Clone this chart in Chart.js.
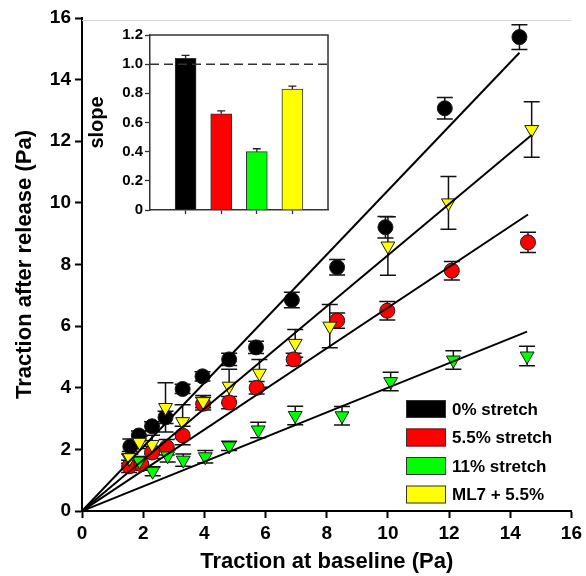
<!DOCTYPE html>
<html><head><meta charset="utf-8">
<script src="https://cdn.jsdelivr.net/npm/chart.js@4/dist/chart.umd.min.js"></script>
<style>
html,body{margin:0;padding:0;background:#fff;}
#wrap{position:relative;width:586px;height:576px;overflow:hidden;}
#main{position:absolute;left:0;top:0;}
#inset{position:absolute;left:84px;top:21px;background:#fff;}
</style></head><body>
<div id="wrap"><canvas id="main" width="586" height="576"></canvas><canvas id="inset" width="250" height="200"></canvas></div>
<script>
// ---------- data ----------
const seriesNames = ['0% stretch', '5.5% stretch', '11% stretch', 'ML7 + 5.5%'];
const seriesColors = ['#000000', '#ff0000', '#00ff00', '#ffff00'];

const xBlack = [1.58, 1.86, 2.29, 2.73, 3.29, 3.94, 4.81, 5.69, 6.86, 8.34, 9.92, 11.86, 14.30];
const yBlack = [2.09, 2.45, 2.75, 3.04, 3.96, 4.37, 4.92, 5.31, 6.85, 7.91, 9.21, 13.07, 15.38];
const eBlack = [0.25, 0.15, 0.15, 0.20, 0.15, 0.15, 0.20, 0.20, 0.25, 0.25, 0.35, 0.35, 0.40];

const xRed = [1.54, 1.94, 2.29, 2.77, 3.29, 3.96, 4.81, 5.71, 6.92, 8.34, 9.98, 12.09, 14.58];
const yRed = [1.45, 1.52, 1.90, 2.07, 2.45, 3.48, 3.52, 4.00, 4.92, 6.18, 6.50, 7.80, 8.72];
const eRed = [0.20, 0.20, 0.20, 0.25, 0.30, 0.20, 0.20, 0.20, 0.20, 0.25, 0.30, 0.30, 0.33];

const xGreen = [1.54, 1.88, 2.31, 2.80, 3.31, 4.03, 4.81, 5.76, 6.97, 8.50, 10.09, 12.14, 14.55];
const yGreen = [1.70, 1.62, 1.29, 1.79, 1.65, 1.76, 2.11, 2.63, 3.10, 3.09, 4.20, 4.90, 5.03];
const eGreen = [0.15, 0.15, 0.15, 0.20, 0.20, 0.20, 0.15, 0.25, 0.30, 0.30, 0.30, 0.30, 0.32];

const xYellow = [1.56, 1.88, 2.29, 2.73, 3.29, 3.96, 4.81, 5.80, 6.97, 8.10, 10.00, 11.98, 14.70];
const yYellow = [1.73, 2.23, 2.16, 3.36, 2.90, 3.55, 4.05, 4.47, 5.44, 6.00, 8.60, 10.00, 12.38];
const eYellow = [0.20, 0.20, 0.30, 0.80, 0.55, 0.20, 0.55, 0.45, 0.45, 0.70, 0.95, 0.86, 0.90];

// fitted slopes (inset bars) and their SEM
const slopes = [1.04, 0.66, 0.40, 0.83];
const slopeErr = [0.02, 0.02, 0.02, 0.02];
const slopePositions = [1, 2, 3, 4];
const slopeRef = 1.0;

const axisTicks = [0, 2, 4, 6, 8, 10, 12, 14, 16];
const insetTicks = [0, 0.2, 0.4, 0.6, 0.8, 1.0, 1.2];

// ---------- build ----------
const FONT = '"Liberation Sans", Arial, Helvetica, sans-serif';
const xsAll = [xBlack, xRed, xGreen, xYellow];
const ysAll = [yBlack, yRed, yGreen, yYellow];
const esAll = [eBlack, eRed, eGreen, eYellow];
const shapes = ['circle', 'circle', 'triangle', 'triangle'];

const datasets = [];
for (let s = 0; s < 4; s++) {
  const xEnd = Math.max(...xsAll[s]);
  datasets.push({
    type: 'line', label: seriesNames[s] + ' fit',
    data: [{x: 0, y: 0}, {x: xEnd, y: slopes[s] * xEnd}],
    borderColor: '#000', borderWidth: 2, pointRadius: 0, order: 0, fill: false
  });
}
for (let s = 0; s < 4; s++) {
  datasets.push({
    type: 'scatter', label: seriesNames[s],
    data: xsAll[s].map((v, i) => ({x: v, y: ysAll[s][i]})),
    errors: esAll[s],
    pointStyle: shapes[s],
    pointRadius: shapes[s] === 'circle' ? 7.5 : 8,
    pointHoverRadius: shapes[s] === 'circle' ? 7.5 : 8,
    pointRotation: shapes[s] === 'circle' ? 0 : 180,
    backgroundColor: seriesColors[s],
    borderColor: '#1a1a1a', borderWidth: 1,
    order: 4 - s
  });
}

const errorBars = {
  id: 'errorBars',
  beforeDatasetsDraw(chart) {
    const ctx = chart.ctx, yS = chart.scales.y;
    ctx.save();
    ctx.strokeStyle = '#111'; ctx.lineWidth = 1.5;
    chart.data.datasets.forEach((ds, di) => {
      if (!ds.errors) return;
      const meta = chart.getDatasetMeta(di);
      meta.data.forEach((pt, i) => {
        const v = ds.data[i].y, e = ds.errors[i];
        const x = pt.x, y1 = yS.getPixelForValue(v + e), y2 = yS.getPixelForValue(v - e);
        ctx.beginPath();
        ctx.moveTo(x, y1); ctx.lineTo(x, y2);
        ctx.moveTo(x - 8, y1); ctx.lineTo(x + 8, y1);
        ctx.moveTo(x - 8, y2); ctx.lineTo(x + 8, y2);
        ctx.stroke();
      });
    });
    ctx.restore();
  }
};

const legendBox = {
  id: 'legendBox',
  afterDraw(chart) {
    const ctx = chart.ctx;
    ctx.save();
    ctx.font = 'bold 17px ' + FONT;
    ctx.textBaseline = 'middle'; ctx.textAlign = 'left';
    seriesNames.forEach((n, i) => {
      const top = 400 + i * 28.5;
      ctx.fillStyle = seriesColors[i];
      ctx.fillRect(406, top, 40, 18);
      ctx.strokeStyle = '#333'; ctx.lineWidth = 1;
      ctx.strokeRect(406.5, top + 0.5, 39, 17);
      ctx.fillStyle = '#000';
      ctx.fillText(n, 452, top + 10);
    });
    // faint frame line at the top
    ctx.strokeStyle = '#d6d6d6'; ctx.lineWidth = 1;
    ctx.beginPath(); ctx.moveTo(chart.chartArea.left, 20.5); ctx.lineTo(chart.chartArea.right, 20.5); ctx.stroke();
    ctx.restore();
  }
};

const tickFont = {family: FONT, size: 19, weight: 'bold'};
const titleFont = {family: FONT, size: 22, weight: 'bold'};

new Chart(document.getElementById('main'), {
  type: 'scatter',
  data: {datasets},
  options: {
    responsive: false, animation: false, devicePixelRatio: 1,
    layout: {padding: {top: 18, right: 11, left: 0, bottom: 0}},
    plugins: {legend: {display: false}, tooltip: {enabled: false}},
    scales: {
      x: {
        type: 'linear', min: axisTicks[0], max: axisTicks[axisTicks.length - 1],
        afterBuildTicks(s) { s.ticks = axisTicks.map(v => ({value: v})); },
        ticks: {color: '#000', font: tickFont, padding: 4},
        grid: {drawOnChartArea: false, drawTicks: true, tickLength: 7, tickColor: '#000', tickWidth: 2},
        border: {color: '#000', width: 2},
        title: {display: true, text: 'Traction at baseline (Pa)', color: '#000', font: titleFont, padding: {top: 0, bottom: 1}},
        afterFit(s) { s.height = 65; }
      },
      y: {
        type: 'linear', min: axisTicks[0], max: axisTicks[axisTicks.length - 1],
        afterBuildTicks(s) { s.ticks = axisTicks.map(v => ({value: v})); },
        ticks: {color: '#000', font: tickFont, padding: 4},
        grid: {drawOnChartArea: false, drawTicks: true, tickLength: 7, tickColor: '#000', tickWidth: 2},
        border: {color: '#000', width: 2},
        title: {display: true, text: 'Traction after release (Pa)', color: '#000', font: titleFont, padding: {top: 12, bottom: 0}},
        afterFit(s) { s.width = 82; }
      }
    }
  },
  plugins: [errorBars, legendBox]
});

// ---------- inset ----------
const insetDecor = {
  id: 'insetDecor',
  afterDatasetsDraw(chart) {
    const ctx = chart.ctx, a = chart.chartArea, yS = chart.scales.y, xS = chart.scales.x;
    ctx.save();
    ctx.strokeStyle = '#333'; ctx.lineWidth = 1.5;
    ctx.beginPath();
    ctx.moveTo(a.left, a.top); ctx.lineTo(a.right, a.top); ctx.lineTo(a.right, a.bottom);
    ctx.stroke();
    // error caps (upper)
    ctx.strokeStyle = '#222'; ctx.lineWidth = 1.3;
    slopes.forEach((v, i) => {
      const x = xS.getPixelForValue(slopePositions[i]);
      const y0 = yS.getPixelForValue(v), y1 = yS.getPixelForValue(v + slopeErr[i]);
      ctx.beginPath();
      ctx.moveTo(x, y0); ctx.lineTo(x, y1);
      ctx.moveTo(x - 4, y1); ctx.lineTo(x + 4, y1);
      ctx.stroke();
    });
    // dashed reference line
    const yr = yS.getPixelForValue(slopeRef);
    ctx.setLineDash([9, 5]);
    ctx.strokeStyle = '#333'; ctx.lineWidth = 1.5;
    ctx.beginPath(); ctx.moveTo(a.left, yr); ctx.lineTo(a.right, yr); ctx.stroke();
    ctx.restore();
  }
};

new Chart(document.getElementById('inset'), {
  type: 'bar',
  data: {
    datasets: [{
      data: slopes.map((v, i) => ({x: slopePositions[i], y: v})),
      backgroundColor: seriesColors, borderColor: '#333', borderWidth: 1,
      barThickness: 21
    }]
  },
  options: {
    responsive: false, animation: false, devicePixelRatio: 1,
    layout: {padding: {top: 14, right: 6, left: 0, bottom: 0}},
    plugins: {legend: {display: false}, tooltip: {enabled: false}},
    scales: {
      x: {
        type: 'linear', min: 0, max: 5, offset: false,
        afterBuildTicks(s) { s.ticks = slopePositions.map(v => ({value: v})); },
        ticks: {display: false},
        grid: {offset: false, drawOnChartArea: false, drawTicks: true, tickLength: 4, tickColor: '#333', tickWidth: 1.3},
        border: {color: '#333', width: 1.5},
        afterFit(s) { s.height = 9; }
      },
      y: {
        type: 'linear', min: 0, max: 1.2,
        afterBuildTicks(s) { s.ticks = insetTicks.map(v => ({value: v})); },
        ticks: {color: '#000', font: {family: FONT, size: 15, weight: 'bold'}, padding: 2,
          callback: v => v === 0 ? '0' : v.toFixed(1)},
        grid: {drawOnChartArea: false, drawTicks: true, tickLength: 5, tickColor: '#333', tickWidth: 1.3},
        border: {color: '#333', width: 1.5},
        title: {display: true, text: 'slope', color: '#000', font: {family: FONT, size: 20, weight: 'bold'}, padding: {top: 1, bottom: 0}},
        afterFit(s) { s.width = 66; }
      }
    }
  },
  plugins: [insetDecor]
});
</script>
</body></html>
